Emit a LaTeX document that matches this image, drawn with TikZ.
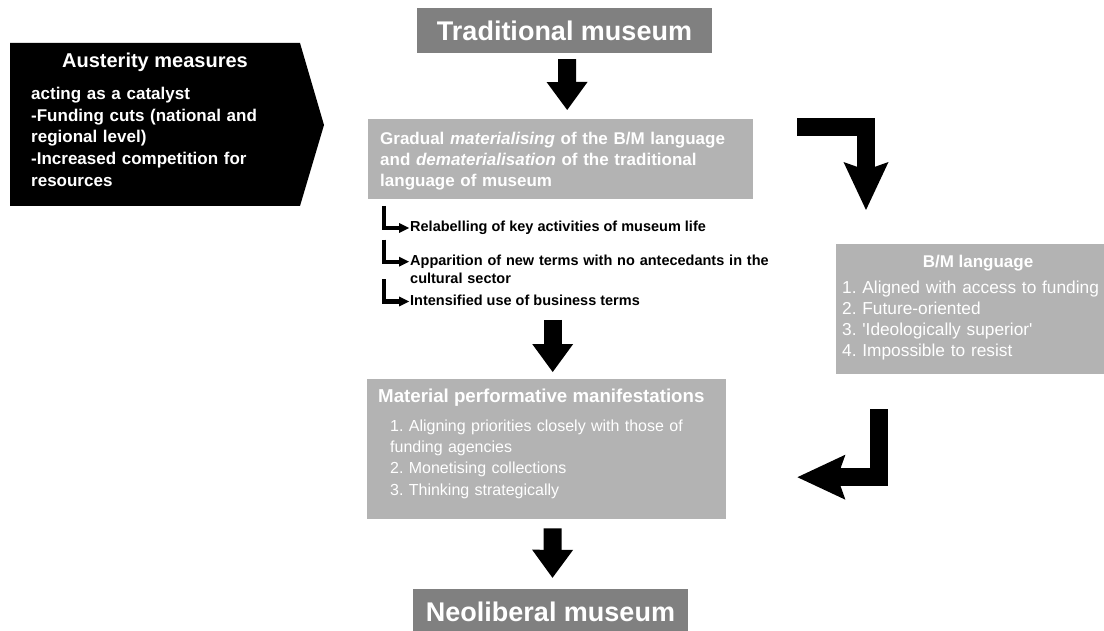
\documentclass[tikz,border=0pt]{standalone}
\usepackage{fontspec}
\setmainfont{Liberation Sans}
\usetikzlibrary{arrows.meta}
\definecolor{darkbox}{HTML}{808080}
\definecolor{lightbox}{HTML}{B3B3B3}
\newcommand{\fsz}[2]{\fontsize{#1}{#2}\selectfont}
\frenchspacing

\begin{document}
\begin{tikzpicture}[x=1pt,y=-1pt,
    heading/.style={fill=darkbox,text=white,font=\fsz{27}{32}\bfseries,inner sep=0pt,minimum height=45pt},
    panel/.style={fill=lightbox,inner sep=0pt,anchor=north west},
    paneltext/.style={text=white,inner sep=0pt,anchor=base west,align=left},
    item/.style={font=\fsz{14.5}{18}\bfseries,inner xsep=1pt,inner ysep=0pt,anchor=base west,align=left},
    bigdown/.style={line width=18pt,-{Triangle[length=28pt,width=41pt,line width=0pt]}},
    bent/.style={line width=18pt,-{Stealth[length=48pt,width=45pt,inset=8pt,line width=0pt]}},
    turn/.style={line width=4.2pt,-{Triangle[length=10pt,width=10pt,line width=0pt]}}]
   \useasboundingbox (0,0) rectangle (1104,631);

   \node[heading,minimum width=295pt] (trad) at (564.5,30.5) {Traditional museum};
   \node[heading,minimum width=275pt] (neo) at (550.5,611.5) {Neoliberal museum};

   % austerity block
   \fill (10,43) -- (300,43) -- (324,125) -- (300,206) -- (10,206) -- cycle;
   \node[text=white,font=\fsz{20}{24}\bfseries,inner sep=0pt,anchor=base] (austitle) at (155,67.2) {Austerity measures};
   \node[paneltext,font=\fsz{17}{21.7}\bfseries,text width=265pt] (ausbody) at (31,99.4)
      {acting as a catalyst\\-Funding cuts (national and\\regional level)\\-Increased competition for\\resources};

   % grey panels
   \node[panel,minimum width=385pt,minimum height=80pt] (grad) at (368,119) {};
   \node[panel,minimum width=270pt,minimum height=130pt] (bm) at (836,244) {};
   \node[panel,minimum width=359pt,minimum height=140pt] (mat) at (367,379) {};

   \node[paneltext,font=\fsz{17}{21}\bfseries,text width=370pt] (gradtext) at (380,144.4)
      {Gradual \textit{materialising} of the B/M language\\and \textit{dematerialisation} of the traditional\\language of museum};
   \node[paneltext,font=\fsz{17}{19}\bfseries,anchor=base] (bmtitle) at (978,267.5) {B/M language};
   \node[paneltext,font=\fsz{17.3}{20.7},text width=262pt] (bmlist) at (842,294)
      {1. Aligned with access to funding\\2. Future-oriented\\3. \textquotesingle Ideologically superior\textquotesingle\\4. Impossible to resist};
   \node[paneltext,font=\fsz{18.7}{22}\bfseries] (mattitle) at (378,402.7) {Material performative manifestations};
   \node[paneltext,font=\fsz{16}{21.5},text width=330pt] (matlist) at (390,431)
      {1. Aligning priorities closely with those of\\funding agencies\\2. Monetising collections\\3. Thinking strategically};

   % terms
   \node[item] (rel) at (409,232) {Relabelling of key activities of museum life};
   \node[item,text width=360pt] (app) at (409,265.7) {Apparition of new terms with no antecedants in the\\cultural sector};
   \node[item] (int) at (409,305.5) {Intensified use of business terms};

   \draw[turn] ([xshift=-25pt,yshift=26pt]rel.base west) |- ([yshift=4pt]rel.base west);
   \draw[turn] ([xshift=-25pt,yshift=26pt]app.base west) |- ([yshift=4pt]app.base west);
   \draw[turn] ([xshift=-25pt,yshift=26pt]int.base west) |- ([yshift=4pt]int.base west);

   \path[bigdown] ([xshift=2.5pt,yshift=-6pt]trad.south) edge ([xshift=6.5pt,yshift=9pt]grad.north);
   \path[bigdown] ([xshift=6pt,yshift=59pt]mat.north) edge ([xshift=6pt,yshift=7pt]mat.north);
   \path[bigdown] ([xshift=6pt,yshift=-9pt]mat.south) edge ([xshift=2pt,yshift=11pt]neo.north);
   \draw[bent] ([xshift=44pt,yshift=-8pt]grad.north east) -| ([xshift=30pt,yshift=34pt]bm.north west);
   \draw[bent] ([xshift=43pt,yshift=-35pt]bm.south west) |- ([xshift=71pt,yshift=-28pt]mat.east);
\end{tikzpicture}
\end{document}
